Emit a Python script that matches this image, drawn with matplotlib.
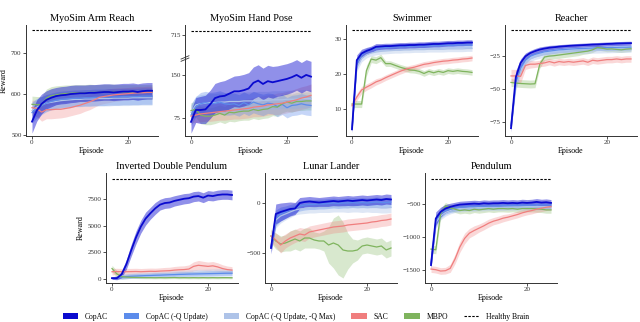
import numpy as np
import matplotlib
matplotlib.use("Agg")
import matplotlib.pyplot as plt
from matplotlib.patches import Patch
from matplotlib.lines import Line2D

plt.rcParams['font.family'] = ['Liberation Serif', 'DejaVu Serif']

EPISODES = list(range(26))
METHODS = ["CopAC", "CopAC (-Q Update)", "CopAC (-Q Update, -Q Max)", "SAC", "MBPO"]
COLORS = {"CopAC": "#0A0ACF", "CopAC (-Q Update)": "#5C8CEB",
          "CopAC (-Q Update, -Q Max)": "#AEC3E8", "SAC": "#F07E7E", "MBPO": "#7FB45E"}
TITLES = ["MyoSim Arm Reach", "MyoSim Hand Pose", "Swimmer", "Reacher",
          "Inverted Double Pendulum", "Lunar Lander", "Pendulum"]

# ---------------- MyoSim Arm Reach ----------------
arm_copac = [533, 560, 576, 586, 591, 595, 597, 598, 600, 601, 602, 602, 603, 603, 604, 605, 605, 604, 605, 606, 606, 607, 605, 607, 608, 608]
arm_noq = [555, 565, 572, 578, 582, 585, 587, 588, 589, 590, 590, 591, 591, 592, 592, 592, 593, 593, 593, 594, 594, 594, 594, 595, 595, 595]
arm_noqmax = [560, 568, 574, 578, 580, 582, 584, 585, 586, 587, 587, 588, 588, 588, 589, 589, 589, 590, 590, 590, 590, 591, 591, 591, 591, 591]
arm_sac = [567, 565, 556, 562, 562, 563, 563, 565, 567, 570, 573, 577, 581, 586, 592, 594, 596, 598, 599, 600, 601, 602, 603, 603, 604, 604]
arm_mbpo = [575, 574, 574, 590, 596, 598, 600, 601, 602, 603, 603, 603, 604, 604, 604, 605, 605, 605, 605, 605, 605, 605, 605, 605, 605, 605]
arm_copac_sd = [28, 26, 24, 22, 22, 21, 21, 21, 21, 21, 20, 20, 20, 20, 20, 20, 20, 20, 20, 20, 20, 20, 20, 20, 20, 20]
arm_noq_sd = [25, 24, 22, 21, 20, 20, 20, 20, 20, 20, 20, 20, 20, 20, 20, 20, 20, 20, 20, 20, 20, 20, 20, 20, 20, 20]
arm_noqmax_sd = [22, 21, 20, 20, 19, 19, 19, 19, 19, 18, 18, 18, 18, 18, 18, 18, 18, 18, 18, 18, 18, 18, 18, 18, 18, 18]
arm_sac_sd = [18, 20, 22, 22, 22, 22, 21, 21, 20, 20, 20, 19, 19, 18, 18, 17, 17, 16, 16, 15, 15, 15, 15, 15, 15, 15]
arm_mbpo_sd = [20, 20, 20, 22, 22, 22, 21, 21, 20, 20, 20, 20, 20, 19, 19, 19, 19, 19, 18, 18, 18, 18, 18, 18, 18, 18]

# ---------------- MyoSim Hand Pose ----------------
hand_copac = [68, 89, 89, 90, 99, 110, 113, 114, 118, 122, 122, 124, 127, 137, 141, 135, 140, 138, 140, 142, 144, 147, 151, 146, 151, 148]
hand_noq = [80, 95, 100, 102, 100, 101, 103, 100, 99, 100, 97, 102, 98, 103, 100, 98, 101, 100, 95, 99, 93, 97, 98, 100, 98, 97]
hand_noqmax = [85, 98, 100, 101, 102, 102, 103, 103, 104, 104, 104, 105, 105, 105, 106, 106, 106, 107, 107, 107, 108, 108, 108, 109, 109, 109]
hand_sac = [78, 80, 82, 83, 84, 85, 86, 87, 88, 89, 90, 91, 92, 94, 95, 96, 98, 99, 100, 101, 103, 105, 107, 110, 112, 115]
hand_mbpo = [88, 90, 80, 78, 78, 80, 83, 80, 85, 84, 86, 87, 87, 90, 88, 90, 91, 95, 94, 100, 103, 101, 104, 104, 105, 105]
hand_copac_sd = [20, 22, 24, 25, 25, 26, 26, 27, 27, 27, 28, 28, 28, 28, 28, 28, 28, 28, 27, 27, 27, 27, 27, 27, 27, 27]
hand_noq_sd = [18, 18, 20, 20, 20, 20, 20, 20, 19, 19, 19, 19, 19, 19, 19, 19, 18, 18, 18, 18, 18, 18, 18, 18, 18, 18]
hand_noqmax_sd = [15, 15, 16, 16, 16, 16, 16, 16, 16, 16, 16, 16, 16, 16, 16, 16, 16, 16, 16, 16, 16, 16, 16, 16, 16, 16]
hand_sac_sd = [12, 13, 14, 14, 15, 15, 15, 16, 16, 16, 17, 17, 17, 17, 18, 18, 18, 18, 19, 19, 19, 19, 20, 20, 20, 20]
hand_mbpo_sd = [14, 14, 15, 15, 15, 15, 15, 15, 16, 16, 16, 16, 16, 16, 16, 16, 16, 16, 16, 16, 16, 16, 16, 16, 16, 16]

# ---------------- Swimmer ----------------
swim_copac = [4.3, 24, 25.9, 26.6, 27.1, 27.8, 27.9, 28.0, 28.0, 28.1, 28.2, 28.2, 28.3, 28.3, 28.4, 28.4, 28.5, 28.6, 28.6, 28.7, 28.8, 28.8, 28.9, 28.9, 29.0, 29.0]
swim_noq = [4.5, 23, 25.5, 26.5, 27, 27.3, 27.5, 27.6, 27.7, 27.8, 27.8, 27.9, 27.9, 28.0, 28.0, 28.0, 28.1, 28.1, 28.1, 28.2, 28.2, 28.2, 28.3, 28.3, 28.3, 28.3]
swim_noqmax = [4.5, 22, 24.5, 25.5, 26, 26.3, 26.5, 26.6, 26.7, 26.8, 26.8, 26.9, 26.9, 27.0, 27.0, 27.0, 27.1, 27.1, 27.1, 27.1, 27.2, 27.2, 27.2, 27.2, 27.3, 27.3]
swim_sac = [11.0, 13.5, 15.5, 16.3, 17.0, 17.8, 18.3, 19.0, 19.6, 20.2, 20.8, 21.3, 21.7, 22.0, 22.4, 22.8, 23.0, 23.3, 23.5, 23.7, 23.8, 24.0, 24.1, 24.3, 24.4, 24.6]
swim_mbpo = [11.5, 11.5, 11.5, 21.0, 24.3, 24.0, 24.7, 23.0, 23.0, 22.5, 22.0, 21.6, 21.2, 21.1, 20.8, 20.2, 20.8, 20.4, 20.8, 20.5, 21.0, 20.8, 21.0, 20.8, 20.7, 20.5]
swim_copac_sd = [1.0, 1.5, 1.2, 1.0, 0.9, 0.9, 0.8, 0.8, 0.8, 0.8, 0.8, 0.8, 0.8, 0.8, 0.8, 0.8, 0.8, 0.8, 0.8, 0.8, 0.8, 0.8, 0.8, 0.8, 0.8, 0.8]
swim_noq_sd = [1.0, 1.2, 1.0, 0.9, 0.8, 0.8, 0.8, 0.8, 0.8, 0.8, 0.8, 0.8, 0.8, 0.8, 0.8, 0.8, 0.8, 0.8, 0.8, 0.8, 0.8, 0.8, 0.8, 0.8, 0.8, 0.8]
swim_noqmax_sd = [1.0, 1.2, 1.0, 0.9, 0.8, 0.8, 0.8, 0.8, 0.8, 0.8, 0.8, 0.8, 0.8, 0.8, 0.8, 0.8, 0.8, 0.8, 0.8, 0.8, 0.8, 0.8, 0.8, 0.8, 0.8, 0.8]
swim_sac_sd = [1.0, 1.0, 1.0, 0.9, 0.9, 0.9, 0.8, 0.8, 0.8, 0.8, 0.8, 0.8, 0.8, 0.8, 0.8, 0.8, 0.8, 0.8, 0.8, 0.8, 0.8, 0.8, 0.8, 0.8, 0.8, 0.8]
swim_mbpo_sd = [1.0, 1.0, 1.0, 1.5, 1.0, 1.0, 1.0, 0.8, 0.8, 0.8, 0.8, 0.8, 0.8, 0.8, 0.8, 0.8, 0.8, 0.8, 0.8, 0.8, 0.8, 0.8, 0.8, 0.8, 0.8, 0.8]

# ---------------- Reacher ----------------
reach_copac = [-80, -41, -30, -25, -22.5, -21, -19.8, -19, -18.4, -18, -17.6, -17.3, -17, -16.8, -16.6, -16.4, -16.2, -16.0, -15.9, -15.7, -15.5, -15.4, -15.2, -15.1, -15.0, -14.9]
reach_noq = [-78, -45, -34, -28, -25, -23.5, -22.5, -21.5, -21, -20.5, -20, -19.8, -19.5, -19.3, -19.1, -19, -18.8, -18.6, -18.5, -18.4, -18.3, -18.2, -18.1, -18, -18, -17.9]
reach_noqmax = [-78, -47, -36, -30, -27, -25.5, -24.5, -23.5, -23, -22.5, -22, -21.7, -21.5, -21.3, -21.1, -21, -20.8, -20.6, -20.5, -20.4, -20.3, -20.2, -20.1, -20, -20, -19.9]
reach_sac = [-40, -40, -40.3, -32, -31, -31, -30.5, -30, -29, -30, -29, -29.5, -29, -29.5, -29, -28.5, -29.5, -28, -28.5, -28, -27.5, -27.5, -27, -27.5, -27, -27]
reach_mbpo = [-45, -45.5, -45.8, -46, -46.2, -46, -31, -25.5, -24.8, -24.5, -24, -23.5, -23, -22.5, -22, -21.5, -21, -20, -18.2, -18.8, -19.5, -19.3, -19.7, -20, -19.5, -19.2]
reach_copac_sd = [3, 5, 3, 2.5, 2, 2, 2, 1.8, 1.8, 1.6, 1.6, 1.5, 1.5, 1.5, 1.5, 1.5, 1.5, 1.5, 1.5, 1.5, 1.5, 1.5, 1.5, 1.5, 1.5, 1.5]
reach_noq_sd = [3, 4, 3, 2.5, 2, 2, 2, 2, 2, 2, 2, 2, 2, 2, 2, 2, 2, 2, 2, 2, 2, 2, 2, 2, 2, 2]
reach_noqmax_sd = [3, 4, 3, 2.5, 2, 2, 2, 2, 2, 2, 2, 2, 2, 2, 2, 2, 2, 2, 2, 2, 2, 2, 2, 2, 2, 2]
reach_sac_sd = [5, 5, 5, 3, 3, 2.5, 2.5, 2.5, 2.5, 2.5, 2.5, 2.5, 2.5, 2.5, 2.5, 2.5, 2.5, 2.5, 2.5, 2.5, 2.5, 2.5, 2.5, 2.5, 2.5, 2.5]
reach_mbpo_sd = [3, 3, 3, 3, 3, 3, 3, 2.5, 2.5, 2.5, 2.5, 2.5, 2.5, 2.5, 2.5, 2, 2, 2, 2, 2, 2, 2, 2, 2, 2, 2]

# ---------------- Inverted Double Pendulum ----------------
idp_copac = [100, 100, 450, 1400, 2700, 3900, 4900, 5650, 6150, 6600, 6950, 7100, 7150, 7300, 7400, 7500, 7550, 7700, 7750, 7600, 7800, 7750, 7850, 7900, 7900, 7850]
idp_noq = [100, 150, 200, 250, 280, 300, 320, 340, 350, 370, 380, 400, 420, 430, 450, 460, 480, 490, 500, 510, 520, 530, 540, 550, 560, 560]
idp_noqmax = [100, 200, 300, 350, 380, 400, 420, 440, 450, 460, 480, 500, 520, 540, 560, 580, 600, 620, 640, 650, 660, 670, 680, 690, 700, 700]
idp_sac = [700, 720, 700, 700, 710, 720, 700, 720, 740, 730, 760, 780, 800, 850, 880, 900, 950, 1200, 1300, 1250, 1200, 1250, 1150, 1000, 900, 850]
idp_mbpo = [1000, 500, 250, 200, 180, 170, 160, 150, 150, 140, 150, 140, 150, 160, 140, 150, 140, 150, 140, 150, 140, 150, 140, 150, 150, 140]
idp_copac_sd = [100, 150, 300, 450, 550, 600, 600, 600, 550, 550, 500, 500, 500, 480, 480, 480, 470, 470, 460, 460, 460, 450, 450, 450, 450, 450]
idp_noq_sd = [100, 150, 200, 200, 200, 200, 200, 200, 200, 220, 220, 220, 220, 230, 230, 230, 240, 240, 240, 240, 250, 250, 250, 250, 250, 250]
idp_noqmax_sd = [100, 150, 200, 200, 200, 220, 220, 220, 230, 230, 240, 240, 250, 250, 260, 260, 270, 270, 280, 280, 290, 290, 300, 300, 300, 300]
idp_sac_sd = [300, 300, 300, 300, 300, 300, 300, 300, 300, 300, 300, 320, 320, 340, 350, 350, 380, 420, 450, 420, 400, 400, 380, 350, 330, 320]
idp_mbpo_sd = [300, 300, 200, 150, 100, 100, 100, 100, 100, 100, 100, 100, 100, 100, 100, 100, 100, 100, 100, 100, 100, 100, 100, 100, 100, 100]

# ---------------- Lunar Lander ----------------
lunar_copac = [-450, -110, -90, -75, -60, -55, 0, 10, 15, 10, 5, 10, 15, 20, 15, 20, 25, 20, 25, 30, 25, 30, 35, 30, 40, 35]
lunar_noq = [-440, -150, -110, -90, -70, -50, -30, -20, -15, -15, -10, -10, -5, 0, -5, 0, 0, 5, 0, 5, 0, 5, 10, 5, 5, 10]
lunar_noqmax = [-440, -170, -130, -110, -90, -70, -60, -55, -50, -50, -45, -45, -45, -40, -40, -40, -45, -40, -40, -45, -40, -45, -45, -50, -50, -45]
lunar_sac = [-330, -370, -420, -380, -350, -330, -310, -320, -290, -280, -270, -260, -250, -240, -235, -230, -220, -215, -210, -205, -200, -190, -185, -175, -170, -160]
lunar_mbpo = [-330, -380, -410, -400, -380, -360, -380, -350, -350, -370, -380, -380, -420, -400, -420, -470, -480, -480, -470, -430, -420, -430, -440, -430, -470, -450]
lunar_copac_sd = [60, 100, 90, 80, 70, 60, 55, 50, 50, 50, 50, 50, 50, 50, 50, 50, 50, 50, 50, 50, 50, 50, 50, 50, 50, 50]
lunar_noq_sd = [50, 80, 70, 60, 55, 50, 50, 50, 50, 50, 50, 50, 50, 50, 50, 50, 50, 50, 50, 50, 50, 50, 50, 50, 50, 50]
lunar_noqmax_sd = [50, 80, 70, 60, 55, 50, 50, 50, 50, 50, 50, 50, 50, 50, 50, 50, 50, 50, 50, 50, 50, 50, 50, 50, 50, 50]
lunar_sac_sd = [60, 70, 80, 70, 70, 65, 65, 65, 60, 60, 60, 60, 60, 60, 60, 60, 60, 60, 60, 60, 60, 60, 60, 60, 60, 60]
lunar_mbpo_sd = [70, 80, 80, 80, 100, 100, 100, 100, 100, 80, 80, 100, 180, 250, 300, 280, 180, 120, 100, 80, 80, 80, 80, 80, 80, 80]

# ---------------- Pendulum ----------------
pend_copac = [-1420, -720, -620, -570, -545, -525, -510, -505, -500, -495, -500, -490, -495, -490, -490, -485, -490, -485, -490, -480, -485, -480, -470, -480, -475, -485]
pend_noq = [-1400, -750, -650, -600, -580, -560, -550, -545, -540, -540, -535, -535, -530, -530, -530, -525, -525, -525, -520, -520, -520, -520, -515, -515, -515, -515]
pend_noqmax = [-1400, -780, -680, -630, -600, -580, -570, -565, -560, -560, -555, -555, -550, -550, -550, -550, -545, -545, -545, -545, -540, -540, -540, -540, -540, -540]
pend_sac = [-1480, -1490, -1510, -1505, -1470, -1330, -1150, -1020, -940, -900, -865, -830, -790, -760, -740, -715, -700, -680, -660, -635, -615, -600, -580, -565, -550, -540]
pend_mbpo = [-1180, -1190, -650, -530, -560, -580, -600, -590, -600, -580, -590, -580, -570, -580, -570, -570, -575, -570, -580, -570, -570, -570, -575, -580, -590, -590]
pend_copac_sd = [60, 100, 70, 60, 55, 50, 50, 50, 50, 50, 50, 50, 50, 50, 50, 50, 50, 50, 50, 50, 50, 50, 50, 50, 50, 50]
pend_noq_sd = [60, 90, 60, 55, 50, 50, 50, 50, 50, 50, 50, 50, 50, 50, 50, 50, 50, 50, 50, 50, 50, 50, 50, 50, 50, 50]
pend_noqmax_sd = [60, 90, 60, 55, 50, 50, 50, 50, 50, 50, 50, 50, 50, 50, 50, 50, 50, 50, 50, 50, 50, 50, 50, 50, 50, 50]
pend_sac_sd = [50, 50, 50, 50, 60, 70, 80, 80, 70, 70, 60, 60, 60, 55, 55, 55, 50, 50, 50, 50, 50, 50, 50, 50, 50, 50]
pend_mbpo_sd = [60, 60, 80, 50, 50, 50, 50, 50, 50, 50, 50, 50, 50, 50, 50, 50, 50, 50, 50, 50, 50, 50, 50, 50, 50, 50]

HEALTHY = [756, 800, 32.6, -4.7, 9330, 243, -125]
YLIMS = [(498, 768), (43, 946), (2.4, 34), (-86, -1), (-350, 9900), (-800, 300), (-1690, -35)]
YTICKS = [[500, 600, 700], [75, 150, 715], [10, 20, 30], [-75, -50, -25],
          [0, 2500, 5000, 7500], [-500, 0], [-1500, -1000, -500]]

PANELS = [
    ([arm_copac, arm_noq, arm_noqmax, arm_sac, arm_mbpo],
     [arm_copac_sd, arm_noq_sd, arm_noqmax_sd, arm_sac_sd, arm_mbpo_sd]),
    ([hand_copac, hand_noq, hand_noqmax, hand_sac, hand_mbpo],
     [hand_copac_sd, hand_noq_sd, hand_noqmax_sd, hand_sac_sd, hand_mbpo_sd]),
    ([swim_copac, swim_noq, swim_noqmax, swim_sac, swim_mbpo],
     [swim_copac_sd, swim_noq_sd, swim_noqmax_sd, swim_sac_sd, swim_mbpo_sd]),
    ([reach_copac, reach_noq, reach_noqmax, reach_sac, reach_mbpo],
     [reach_copac_sd, reach_noq_sd, reach_noqmax_sd, reach_sac_sd, reach_mbpo_sd]),
    ([idp_copac, idp_noq, idp_noqmax, idp_sac, idp_mbpo],
     [idp_copac_sd, idp_noq_sd, idp_noqmax_sd, idp_sac_sd, idp_mbpo_sd]),
    ([lunar_copac, lunar_noq, lunar_noqmax, lunar_sac, lunar_mbpo],
     [lunar_copac_sd, lunar_noq_sd, lunar_noqmax_sd, lunar_sac_sd, lunar_mbpo_sd]),
    ([pend_copac, pend_noq, pend_noqmax, pend_sac, pend_mbpo],
     [pend_copac_sd, pend_noq_sd, pend_noqmax_sd, pend_sac_sd, pend_mbpo_sd]),
]

# axes boxes in pixels: left, top, right, bottom
W, H = 640, 322
BOXES = [(26, 25, 158, 136), (185, 25, 317, 136), (346, 25, 478, 136), (505, 25, 637, 136),
         (106, 173, 238, 283), (265, 173, 397, 283), (425, 173, 557, 283)]

fig = plt.figure(figsize=(6.4, 3.22), dpi=100)

BAND_ALPHA = [0.45, 0.35, 0.4, 0.3, 0.3]
LW = [1.3, 0.9, 0.9, 0.9, 0.9]
BAND_ORDER = [4, 3, 2, 1, 0]
LINE_ORDER = [2, 1, 4, 3, 0]
SPINE = "#333333"

BREAK = 180.0
K = 0.0774


def fwd(y):
    y = np.asarray(y, dtype=float)
    return np.where(y <= BREAK, y, BREAK + (y - BREAK) * K)


def inv(s):
    s = np.asarray(s, dtype=float)
    return np.where(s <= BREAK, s, BREAK + (s - BREAK) / K)


x = np.array(EPISODES)
for i, (l, t, r, b) in enumerate(BOXES):
    ax = fig.add_axes([l / W, 1 - b / H, (r - l) / W, (b - t) / H])
    means, sds = PANELS[i]
    if i == 1:
        ax.set_yscale('function', functions=(fwd, inv))
    for j in BAND_ORDER:
        m = np.array(means[j]); s = np.array(sds[j])
        ax.fill_between(x, m - s, m + s, color=COLORS[METHODS[j]], alpha=BAND_ALPHA[j], lw=0)
    for j in LINE_ORDER:
        ax.plot(x, means[j], color=COLORS[METHODS[j]], lw=LW[j], zorder=3)
    ax.plot([x[0], x[-1]], [HEALTHY[i], HEALTHY[i]], color='black', lw=0.8,
            dashes=(2.2, 1.3), zorder=4)
    ax.set_xlim(-1.25, 26.25)
    ax.set_ylim(*YLIMS[i])
    ax.set_xticks([0, 20])
    ax.set_yticks(YTICKS[i])
    ax.set_yticklabels([f"{v}".replace("-", "\u2212") for v in YTICKS[i]])
    ax.minorticks_off()
    for sp in ['top', 'right']:
        ax.spines[sp].set_visible(False)
    for sp in ['left', 'bottom']:
        ax.spines[sp].set_color(SPINE)
        ax.spines[sp].set_linewidth(0.7)
    ax.tick_params(length=2, width=0.6, pad=1.2, labelsize=5, colors=SPINE)
    ax.set_title(TITLES[i], fontsize=7.4, pad=3)
    ax.set_xlabel("Episode", fontsize=5.8, labelpad=1)
    if i in (0, 4):
        ax.set_ylabel("Reward", fontsize=5.8, labelpad=2)
    if i == 1:
        yd = ax.transData.transform((0, BREAK))[1]
        ya = ax.transAxes.inverted().transform((0, yd))[1]
        ax.plot([-0.03, 0.03], [ya - 0.025, ya + 0.005], transform=ax.transAxes,
                color=SPINE, lw=0.6, clip_on=False, zorder=6)
        ax.plot([-0.03, 0.03], [ya - 0.005, ya + 0.025], transform=ax.transAxes,
                color=SPINE, lw=0.6, clip_on=False, zorder=6)

handles = [Patch(facecolor=COLORS[m], edgecolor='none') for m in METHODS]
handles.append(Line2D([0], [0], color='black', lw=0.8, dashes=(2.2, 1.3)))
labels = METHODS + ["Healthy Brain"]
fig.legend(handles, labels, loc='center', bbox_to_anchor=(296 / W, 1 - 317 / H), ncol=6,
           frameon=False, fontsize=5.5, handlelength=2.0, handleheight=0.8,
           handletextpad=0.9, columnspacing=2.1, borderaxespad=0)

fig.savefig("out.png", dpi=100)
